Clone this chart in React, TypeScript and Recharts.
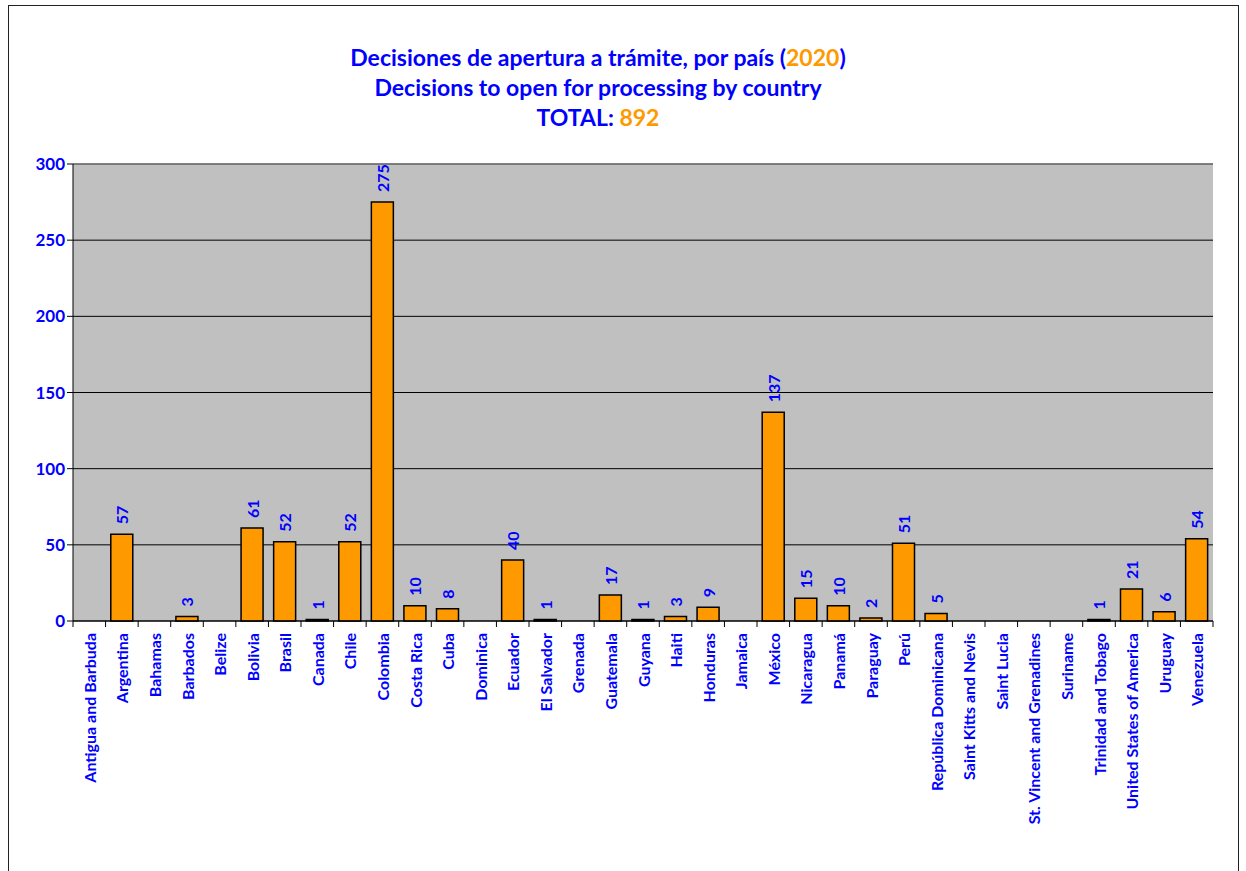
import { BarChart, Bar, XAxis, YAxis, CartesianGrid, LabelList, ReferenceLine } from "recharts"

// Decisions to open for processing, by country (2020)
const countries = [
  "Antigua and Barbuda", "Argentina", "Bahamas", "Barbados", "Belize", "Bolivia", "Brasil", "Canada",
  "Chile", "Colombia", "Costa Rica", "Cuba", "Dominica", "Ecuador", "El Salvador", "Grenada",
  "Guatemala", "Guyana", "Haiti", "Honduras", "Jamaica", "México", "Nicaragua", "Panamá",
  "Paraguay", "Perú", "República Dominicana", "Saint Kitts and Nevis", "Saint Lucia",
  "St. Vincent and Grenadines", "Suriname", "Trinidad and Tobago", "United States of America",
  "Uruguay", "Venezuela",
]
const decisions = [
  0, 57, 0, 3, 0, 61, 52, 1,
  52, 275, 10, 8, 0, 40, 1, 0,
  17, 1, 3, 9, 0, 137, 15, 10,
  2, 51, 5, 0, 0,
  0, 0, 1, 21,
  6, 54,
]
const yTicks = [0, 50, 100, 150, 200, 250, 300]
const total = 892

const BLUE = "#0000FF"
const ORANGE = "#FF9900"
const FONT = "Lato, 'Noto Sans', sans-serif"

const PLOT_LEFT = 73
const PLOT_RIGHT = 1213
const band = (PLOT_RIGHT - PLOT_LEFT) / countries.length

const chartData = countries.map((name, i) => ({ name, value: decisions[i] }))

function CountryTick(props: any) {
  const { x, y, payload, index } = props
  const left = x - band / 2
  return (
    <g>
      <line x1={left} x2={left} y1={y - 8} y2={y - 2} stroke="#000" />
      {index === countries.length - 1 && (
        <line x1={x + band / 2} x2={x + band / 2} y1={y - 8} y2={y - 2} stroke="#000" />
      )}
      <text
        x={x}
        y={y + 4}
        transform={`rotate(-90, ${x}, ${y + 4})`}
        textAnchor="end"
        dominantBaseline="central"
        fill={BLUE}
        fontSize={16}
        fontWeight="bold"
        fontFamily={FONT}
      >
        {payload.value}
      </text>
    </g>
  )
}

function ValueLabel(props: any) {
  const { x, y, width, value } = props
  if (!value) return null
  const cx = x + width / 2
  const ty = y - 10
  return (
    <text
      x={cx}
      y={ty}
      transform={`rotate(-90, ${cx}, ${ty})`}
      textAnchor="start"
      dominantBaseline="central"
      fill={BLUE}
      fontSize={16}
      fontWeight="bold"
      fontFamily={FONT}
    >
      {value}
    </text>
  )
}

export default function App() {
  return (
    <div style={{ position: "absolute", left: 0, top: 0, width: 1246, height: 871, overflow: "hidden", background: "#fff" }}>
      <div
        style={{
          position: "absolute",
          left: 8,
          top: 5,
          width: 1231,
          height: 880,
          border: "1px solid #222",
          boxSizing: "border-box",
        }}
      />
      <div
        style={{
          position: "absolute",
          left: 0,
          top: 42,
          width: 1196,
          textAlign: "center",
          fontFamily: FONT,
          fontWeight: "bold",
          fontSize: 23,
          lineHeight: "30px",
          color: BLUE,
        }}
      >
        <div>
          Decisiones de apertura a trámite, por país (<span style={{ color: ORANGE }}>2020</span>)
        </div>
        <div>Decisions to open for processing by country</div>
        <div>
          TOTAL: <span style={{ color: ORANGE }}>{total}</span>
        </div>
      </div>
      <div style={{ position: "absolute", left: 0, top: 0 }}>
        <BarChart
          width={1246}
          height={871}
          data={chartData}
          margin={{ top: 164, right: 1246 - PLOT_RIGHT, bottom: 50, left: 13 }}
          barCategoryGap="16%"
        >
          <CartesianGrid vertical={false} stroke="#000" fill="#C0C0C0" fillOpacity={1} />
          <XAxis
            dataKey="name"
            interval={0}
            height={200}
            tickLine={false}
            axisLine={{ stroke: "#000" }}
            tick={<CountryTick />}
          />
          <YAxis
            domain={[0, 300]}
            ticks={yTicks}
            width={60}
            tickSize={6}
            tickLine={{ stroke: "#000" }}
            axisLine={{ stroke: "#000" }}
            tick={{ fill: BLUE, fontSize: 17, fontWeight: "bold", fontFamily: FONT }}
          />
          <YAxis
            yAxisId="right"
            orientation="right"
            domain={[0, 300]}
            width={0}
            tick={false}
            tickLine={false}
            axisLine={{ stroke: "#808080" }}
          />
          <ReferenceLine y={300} stroke="#808080" strokeWidth={1.5} />
          <Bar dataKey="value" fill={ORANGE} stroke="#000" strokeWidth={1.5} isAnimationActive={false}>
            <LabelList dataKey="value" content={<ValueLabel />} />
          </Bar>
        </BarChart>
      </div>
    </div>
  )
}
